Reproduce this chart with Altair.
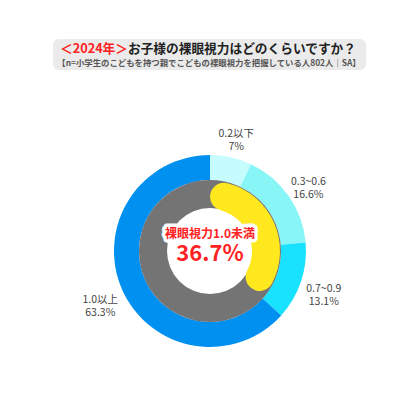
import altair as alt
import pandas as pd

# ---- data ----
categories = ["0.2以下", "0.3~0.6", "0.7~0.9", "1.0以上"]
shares = [7.0, 16.6, 13.1, 63.3]
share_texts = ["7%", "16.6%", "13.1%", "63.3%"]
ring_colors = ["#C6FCFD", "#88F5F7", "#19E2FE", "#0091F0"]

under_label = "裸眼視力1.0未満"
under_share = round(sum(shares[:3]), 1)  # 36.7
under_text = f"{under_share}%"

title_red = "＜2024年＞"
title_black = "お子様の裸眼視力はどのくらいですか？"
subtitle = "【n=小学生のこどもを持つ親でこどもの裸眼視力を把握している人802人｜SA】"

FONT = "Noto Sans CJK JP"
CX, CY = 202, 243  # donut centre in chart coordinates

outer_df = pd.DataFrame({
    "cat": categories,
    "share": shares,
    "order": list(range(len(categories))),
    "label": [f"{c}\n{t}" for c, t in zip(categories, share_texts)],
})
inner_df = pd.DataFrame({"part": ["under", "rest"], "share": [under_share, shares[3]], "order": [0, 1]})
full_df = pd.DataFrame({"share": [sum(shares)]})
center_df = pd.DataFrame({"label": [under_label], "value": [under_text]})
title_df = pd.DataFrame({"red": [title_red], "black": [title_black], "sub": [subtitle]})

theta_scale = alt.Scale(domain=[0, 100])
cx = alt.value(CX)
cy = alt.value(CY)

outer_ring = alt.Chart(outer_df).mark_arc(radius=96, radius2=71).encode(
    theta=alt.Theta("share:Q", stack=True, scale=theta_scale),
    order=alt.Order("order:Q"),
    color=alt.Color("cat:N", scale=alt.Scale(domain=categories, range=ring_colors), legend=None),
    x=cx, y=cy,
)

gray_ring = alt.Chart(full_df).mark_arc(radius=71, radius2=43, color="#747474").encode(
    theta=alt.Theta("share:Q", stack=True, scale=theta_scale),
    x=cx, y=cy,
)

yellow_arc = alt.Chart(inner_df).mark_arc(radius=70, radius2=42, cornerRadius=14).encode(
    theta=alt.Theta("share:Q", stack=True, scale=theta_scale),
    order=alt.Order("order:Q"),
    fill=alt.condition(alt.datum.part == "under", alt.value("#FFE81E"), alt.value("transparent")),
    x=cx, y=cy,
)

labels = alt.Chart(outer_df).mark_text(
    radius=120, lineBreak="\n", fontSize=10.5, font=FONT, color="#444444", lineHeight=13,
    align="center", baseline="middle",
).encode(
    theta=alt.Theta("share:Q", stack=True, scale=theta_scale),
    order=alt.Order("order:Q"),
    text="label:N",
    x=cx, y=cy,
)

center_halo = alt.Chart(center_df).mark_text(
    fontSize=12, font=FONT, fontWeight="bold", color="white", stroke="white",
    strokeWidth=7, strokeJoin="round", align="center", baseline="middle",
).encode(text="label:N", x=cx, y=alt.value(CY - 17))
center_label = alt.Chart(center_df).mark_text(
    fontSize=12, font=FONT, fontWeight="bold", color="#FF2222", align="center", baseline="middle",
).encode(text="label:N", x=cx, y=alt.value(CY - 17))
center_value = alt.Chart(center_df).mark_text(
    fontSize=22, font=FONT, fontWeight="bold", color="#FF2222", align="center", baseline="middle",
).encode(text="value:N", x=cx, y=alt.value(CY + 3))

title_bg = alt.Chart(title_df).mark_rect(color="#EBEBEB", cornerRadius=6).encode(
    x=alt.value(45), x2=alt.value(358), y=alt.value(31), y2=alt.value(62),
)
title_r = alt.Chart(title_df).mark_text(
    fontSize=12.7, font=FONT, fontWeight="bold", color="#FF2222", align="right", baseline="middle",
).encode(text="red:N", x=alt.value(120), y=alt.value(41))
title_b = alt.Chart(title_df).mark_text(
    fontSize=12.7, font=FONT, fontWeight="bold", color="#222222", align="left", baseline="middle",
).encode(text="black:N", x=alt.value(120), y=alt.value(41))
sub_t = alt.Chart(title_df).mark_text(
    fontSize=8.4, font=FONT, fontWeight="bold", color="#555555", align="center", baseline="middle",
).encode(text="sub:N", x=alt.value(201), y=alt.value(55))

chart = alt.layer(
    outer_ring, gray_ring, yellow_arc, labels,
    center_halo, center_label, center_value,
    title_bg, title_r, title_b, sub_t,
).properties(
    width=404, height=400, autosize="none", padding=0,
).configure_view(stroke=None)

chart.save("out.html", embed_options={"renderer": "svg", "actions": False})
